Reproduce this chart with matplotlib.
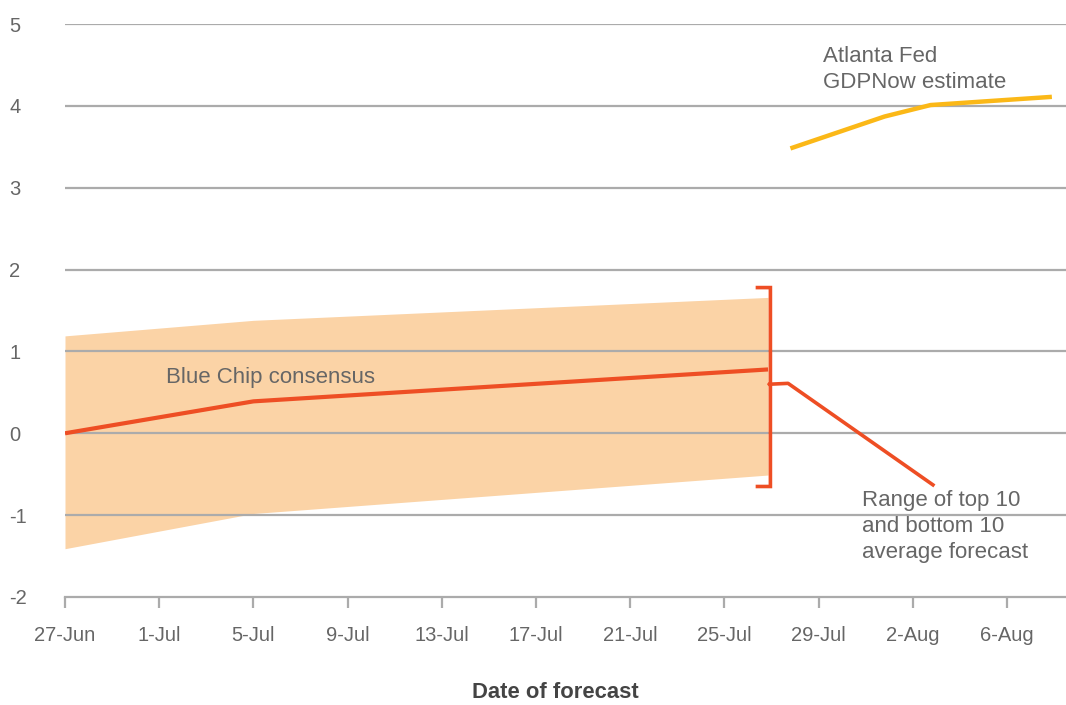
import numpy as np
import matplotlib.pyplot as plt

plt.rcParams['font.family'] = ['Liberation Sans', 'DejaVu Sans']

# x values are days after 27-Jun
# Blue Chip consensus and the top/bottom 10 range
bc_days = [0, 8, 29.85]
bc_mean = [0.0, 0.39, 0.78]
bc_top10 = [1.19, 1.38, 1.66]
bc_bottom10 = [-1.41, -0.98, -0.51]

# Atlanta Fed GDPNow
gdp_days = [30.8, 34.8, 36.75, 41.9]
gdp_vals = [3.48, 3.87, 4.01, 4.11]

tick_days = [0, 4, 8, 12, 16, 20, 24, 28, 32, 36, 40]
tick_labels = ['27-Jun', '1-Jul', '5-Jul', '9-Jul', '13-Jul', '17-Jul', '21-Jul',
               '25-Jul', '29-Jul', '2-Aug', '6-Aug']
y_ticks = [-2, -1, 0, 1, 2, 3, 4, 5]
y_labels = ['-2', '-1', '0', '1', '2', '3', '4', '5']

ORANGE = '#EE4E24'
BAND = '#FBD3A6'
YELLOW = '#FBB817'
GRID = '#ABABAB'
TXT = '#666666'
FS = 16

fig = plt.figure(figsize=(10.66, 7.05), dpi=100)
ax = fig.add_axes([65 / 1066, 1 - 597 / 705, 1 - 65 / 1066, (597 - 24) / 705])

ax.fill_between(bc_days, bc_bottom10, bc_top10, color=BAND, lw=0, zorder=1)
ax.plot(bc_days, bc_mean, color=ORANGE, lw=3, zorder=3, solid_capstyle='butt')
ax.plot(gdp_days, gdp_vals, color=YELLOW, lw=3.2, zorder=3, solid_capstyle='butt')

# bracket around the range
bx = 29.95
ax.plot([bx - 0.55, bx, bx, bx - 0.05, bx, bx, bx - 0.55],
        [1.78, 1.78, 0.62, 0.60, 0.58, -0.65, -0.65],
        color=ORANGE, lw=2.6, zorder=4, solid_joinstyle='miter')
ax.plot([bx, bx + 0.75, bx + 6.9], [0.6, 0.61, -0.63], color=ORANGE, lw=2.6, zorder=4)

ax.set_xlim(0, 42.5)
ax.set_ylim(-2, 5)
ax.set_yticks(y_ticks)
ax.set_yticklabels(y_labels)
ax.set_xticks(tick_days)
ax.set_xticklabels(tick_labels)

for v in y_ticks[1:]:
    ax.axhline(v, color=GRID, lw=1.6, zorder=2)

for s in ['top', 'right', 'left']:
    ax.spines[s].set_visible(False)
ax.spines['bottom'].set_color(GRID)
ax.spines['bottom'].set_linewidth(1.6)

ax.tick_params(axis='x', direction='out', length=8, width=1.6, color=GRID,
               labelcolor=TXT, labelsize=14.5, pad=13)
ax.tick_params(axis='y', length=0, labelcolor=TXT, labelsize=14.5, pad=40)
for lab in ax.get_yticklabels():
    lab.set_horizontalalignment('left')

ax.text(4.3, 0.68, 'Blue Chip consensus', color=TXT, fontsize=FS, va='center', ha='left')
ax.text(32.2, 4.44, 'Atlanta Fed\nGDPNow estimate', color=TXT, fontsize=FS,
        va='center', ha='left', linespacing=1.33)
ax.text(33.85, -1.14, 'Range of top 10\nand bottom 10\naverage forecast', color=TXT,
        fontsize=FS, va='center', ha='left', linespacing=1.33)

fig.text(555 / 1066, 1 - 692 / 705, 'Date of forecast', color='#444444', fontsize=15.8,
         fontweight='bold', ha='center', va='center')

fig.savefig('out.png', dpi=100)
